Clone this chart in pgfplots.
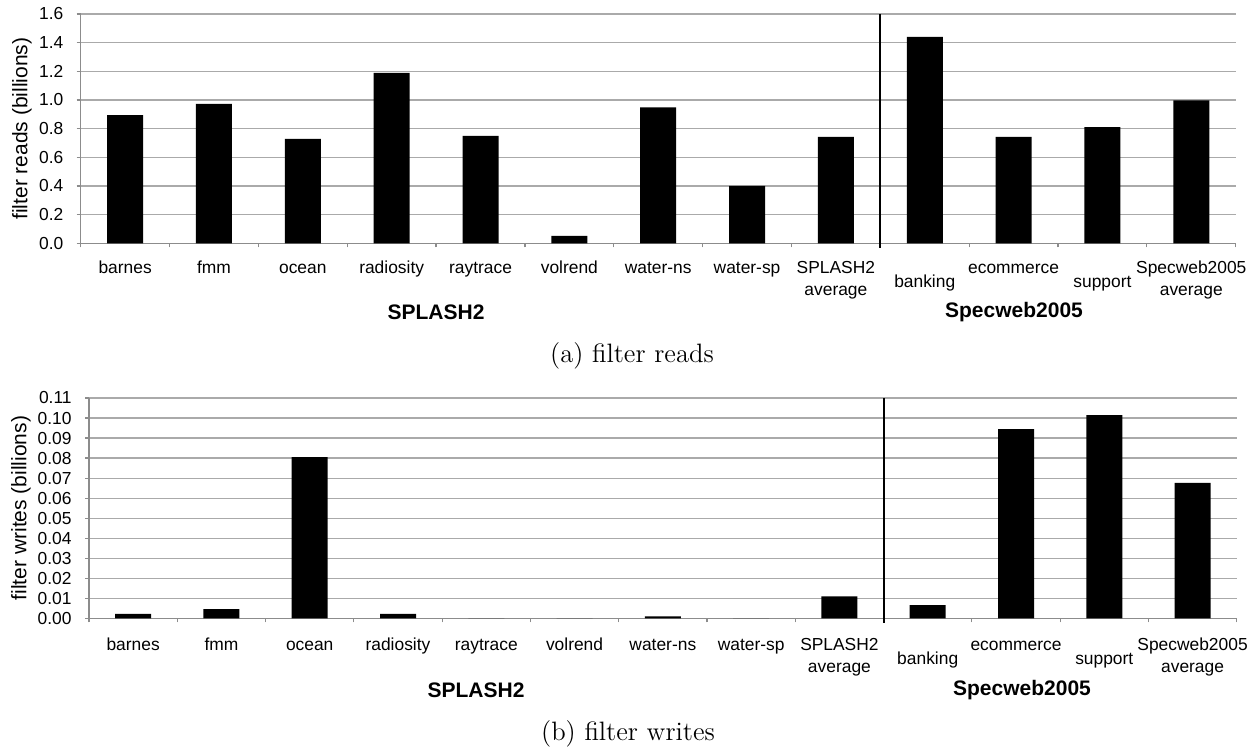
\documentclass[border=0pt]{standalone}
\usepackage{pgfplots}
\pgfplotsset{compat=1.18}
\usepackage{fontspec}
\newfontfamily\arial{Liberation Sans}

\definecolor{gridgray}{RGB}{170,170,170}
\definecolor{axisgray}{RGB}{140,140,140}

% tick label lowered by one half line (Excel staggering)
\newcommand{\lo}[1]{\rule{0pt}{\dimexpr\ht\strutbox+7pt\relax}#1}
\newcommand{\ticklabelfont}{\arial\fontsize{8.7}{11}\selectfont}

\pgfplotsset{
  excelbars/.style={
    scale only axis,
    anchor=south west,
    ybar, bar width=18pt,
    xmin=-0.5, xmax=12.5,
    ymin=0,
    axis x line*=bottom, axis y line*=left,
    axis line style={axisgray, line width=0.6pt},
    xtick={0,...,12},
    major x tick style={draw=none},
    minor xtick={-0.5,0.5,...,12.5},
    minor x tick style={axisgray, line width=0.6pt},
    tick align=outside,
    major tick length=2pt, minor tick length=2pt,
    ytick style={axisgray, line width=0.6pt},
    ymajorgrids, grid style={gridgray, line width=0.6pt},
    xticklabels={{\strut barnes}, {\strut fmm}, {\strut ocean}, {\strut radiosity},
      {\strut raytrace}, {\strut volrend}, {\strut water-ns}, {\strut water-sp},
      {\strut SPLASH2\\average}, {\lo{banking}}, {\strut ecommerce},
      {\lo{support}}, {\strut Specweb2005\\average}},
    xticklabel style={font=\ticklabelfont, anchor=north, inner sep=0pt, align=center},
    yticklabel style={font=\ticklabelfont, anchor=east, inner sep=0pt, xshift=-6.5pt},
    /pgf/number format/assume math mode=true,
    scaled y ticks=false,
    clip=false,
  }
}

\begin{document}
\begin{tikzpicture}
\path[use as bounding box] (0,0) rectangle (629pt,375.5pt);

% ---------- (a) filter reads ----------
\begin{axis}[excelbars,
  at={(40.35pt,253.85pt)}, width=577.5pt, height=114.65pt,
  ymax=1.6, ytick={0,0.2,0.4,0.6,0.8,1.0,1.2,1.4,1.6},
  yticklabel style={/pgf/number format/.cd, fixed, fixed zerofill, precision=1},
  xticklabel style={yshift=-5.3pt},
]
\addplot[fill=black, draw=none] coordinates {
  (0,0.895) (1,0.972) (2,0.728) (3,1.190) (4,0.749) (5,0.051) (6,0.949)
  (7,0.400) (8,0.742) (9,1.440) (10,0.742) (11,0.811) (12,0.998)};
\draw[black, line width=1pt] (axis cs:8.5,1.6) -- ([yshift=-2.5pt]axis cs:8.5,0);
\end{axis}

\node[rotate=90, font=\arial\fontsize{10.5}{12}\selectfont] at (11pt,311.2pt) {filter reads (billions)};
\node[font=\arial\bfseries\fontsize{10.5}{12}\selectfont] at (218pt,219.5pt) {SPLASH2};
\node[font=\arial\bfseries\fontsize{10.5}{12}\selectfont] at (507pt,219.5pt) {Specweb2005};
\node[font=\fontsize{13.3}{16}\selectfont] at (316pt,197.5pt) {(a) filter reads};

% ---------- (b) filter writes ----------
\begin{axis}[excelbars,
  at={(44.5pt,66.35pt)}, width=573.85pt, height=110.15pt,
  ymax=0.11, ytick={0,0.01,0.02,0.03,0.04,0.05,0.06,0.07,0.08,0.09,0.10,0.11},
  yticklabel style={/pgf/number format/.cd, fixed, fixed zerofill, precision=2},
  xticklabel style={yshift=-6.3pt},
]
\addplot[fill=black, draw=none] coordinates {
  (0,0.0022) (1,0.0046) (2,0.0805) (3,0.0022) (4,0) (5,0) (6,0.0010)
  (7,0) (8,0.0110) (9,0.0066) (10,0.0945) (11,0.1015) (12,0.0676)};
\draw[black, line width=1pt] (axis cs:8.5,0.11) -- ([yshift=-2.5pt]axis cs:8.5,0);
\end{axis}

\node[rotate=90, font=\arial\fontsize{10.5}{12}\selectfont] at (10.5pt,121.5pt) {filter writes (billions)};
\node[font=\arial\bfseries\fontsize{10.5}{12}\selectfont] at (238pt,30.5pt) {SPLASH2};
\node[font=\arial\bfseries\fontsize{10.5}{12}\selectfont] at (511pt,30.5pt) {Specweb2005};
\node[font=\fontsize{13.3}{16}\selectfont] at (314pt,8.5pt) {(b) filter writes};
\end{tikzpicture}
\end{document}
